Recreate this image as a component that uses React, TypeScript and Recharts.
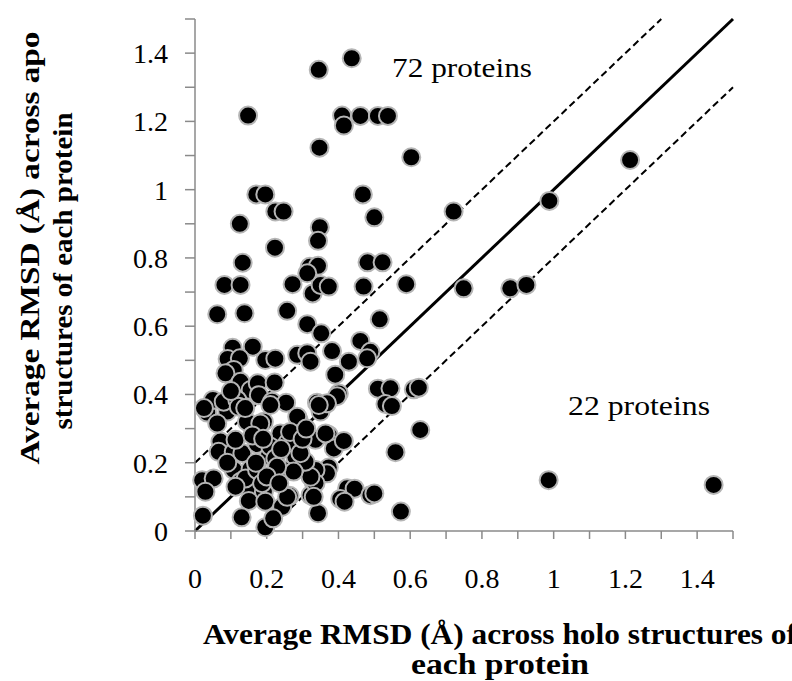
import { ScatterChart, Scatter, XAxis, YAxis, ReferenceLine } from "recharts";

const SERIF = '"Liberation Serif", "Times New Roman", Times, serif';

// points above the +0.2 band (plus a few sparse ones)
const holoUpper = [
  0.437, 0.345, 0.148, 0.41, 0.415, 0.461, 0.51, 0.538, 0.347, 0.603,
  0.171, 0.196, 0.468, 0.224, 0.247, 0.721, 0.125, 0.5, 0.348, 0.343,
  0.223, 0.133, 0.32, 0.343, 0.481, 0.523, 0.082, 0.127, 0.272, 0.328,
  0.35, 0.373, 0.47, 0.589, 0.749, 0.062, 0.138, 0.257, 0.313, 0.352,
  0.515, 0.313, 1.213, 0.988, 0.879, 0.924,
];
const apoUpper = [
  1.385, 1.351, 1.217, 1.217, 1.188, 1.216, 1.216, 1.216, 1.123, 1.095,
  0.986, 0.986, 0.986, 0.936, 0.936, 0.936, 0.9, 0.919, 0.89, 0.85,
  0.83, 0.786, 0.774, 0.777, 0.787, 0.787, 0.721, 0.721, 0.723, 0.696,
  0.721, 0.716, 0.716, 0.723, 0.711, 0.635, 0.638, 0.645, 0.606, 0.579,
  0.62, 0.755, 1.087, 0.967, 0.711, 0.721,
];

// points along the diagonal band and to its right
const holoBand = [
  0.461, 0.489, 0.48, 0.382, 0.429, 0.391, 0.401, 0.396, 0.51, 0.545,
  0.531, 0.549, 0.61, 0.624, 0.628, 0.559, 0.574, 0.424, 0.445, 0.405,
  0.417, 0.489, 0.5, 0.343, 0.331, 0.322, 0.986, 1.446, 0.34, 0.35,
  0.368, 0.345, 0.336, 0.373, 0.387, 0.415, 0.364, 0.373, 0.368, 0.336,
  0.336, 0.331, 0.322, 0.285, 0.313, 0.322,
];
const apoBand = [
  0.557, 0.525, 0.506, 0.527, 0.496, 0.458, 0.403, 0.395, 0.417, 0.418,
  0.372, 0.366, 0.415, 0.42, 0.296, 0.231, 0.057, 0.125, 0.124, 0.094,
  0.086, 0.105, 0.11, 0.052, 0.142, 0.105, 0.149, 0.135, 0.376, 0.35,
  0.374, 0.369, 0.267, 0.281, 0.242, 0.264, 0.286, 0.186, 0.169, 0.179,
  0.14, 0.1, 0.159, 0.516, 0.521, 0.496,
];

// dense cluster near the origin
const holoCluster = [
  0.105, 0.161, 0.091, 0.125, 0.196, 0.224, 0.108, 0.085, 0.127, 0.155,
  0.175, 0.222, 0.178, 0.215, 0.254, 0.034, 0.05, 0.09, 0.08, 0.118,
  0.145, 0.192, 0.289, 0.238, 0.071, 0.066, 0.108, 0.132, 0.173, 0.206,
  0.28, 0.308, 0.108, 0.155, 0.247, 0.275, 0.02, 0.052, 0.029, 0.127,
  0.155, 0.192, 0.15, 0.196, 0.243, 0.264, 0.022, 0.13, 0.196, 0.218,
  0.025, 0.122, 0.182, 0.21, 0.285, 0.062, 0.113, 0.21, 0.257, 0.224,
  0.141, 0.173, 0.187, 0.229, 0.113, 0.257, 0.294, 0.16, 0.19, 0.265,
  0.3, 0.2, 0.235, 0.09, 0.31, 0.17, 0.14, 0.1, 0.24,
];
const apoCluster = [
  0.537, 0.54, 0.504, 0.506, 0.501, 0.505, 0.472, 0.462, 0.437, 0.413,
  0.433, 0.435, 0.398, 0.379, 0.376, 0.347, 0.384, 0.35, 0.379, 0.384,
  0.32, 0.32, 0.325, 0.286, 0.262, 0.232, 0.232, 0.228, 0.255, 0.22,
  0.216, 0.203, 0.179, 0.182, 0.179, 0.174, 0.149, 0.154, 0.115, 0.144,
  0.12, 0.115, 0.088, 0.086, 0.071, 0.103, 0.045, 0.04, 0.011, 0.037,
  0.36, 0.364, 0.315, 0.369, 0.335, 0.315, 0.267, 0.247, 0.257, 0.213,
  0.154, 0.179, 0.14, 0.188, 0.13, 0.1, 0.228, 0.28, 0.27, 0.29,
  0.27, 0.16, 0.14, 0.2, 0.3, 0.2, 0.36, 0.41, 0.24,
];

const axisTicks = [0, 0.1, 0.2, 0.3, 0.4, 0.5, 0.6, 0.7, 0.8, 0.9, 1, 1.1, 1.2, 1.3, 1.4, 1.5];
const labelledTicks = [0, 0.2, 0.4, 0.6, 0.8, 1, 1.2, 1.4];

const identityLine = [{ x: 0, y: 0 }, { x: 1.5, y: 1.5 }];
const upperBand = [{ x: 0, y: 0.2 }, { x: 1.3, y: 1.5 }];
const lowerBand = [{ x: 0.2, y: 0 }, { x: 1.5, y: 1.3 }];

const toPoints = (xs: number[], ys: number[]) => xs.map((x, i) => ({ x, y: ys[i] }));
const points = [
  ...toPoints(holoUpper, apoUpper),
  ...toPoints(holoBand, apoBand),
  ...toPoints(holoCluster, apoCluster),
];

const fmt = (v: number) => (labelledTicks.some((t) => Math.abs(t - v) < 1e-6) ? String(v) : "");

const Dot = (props: any) => (
  <circle cx={props.cx} cy={props.cy} r={9} fill="#000" stroke="#b5b5b5" strokeWidth={2} />
);

const tickStyle = { fill: "#000", fontSize: 28, fontFamily: SERIF };

export default function App() {
  return (
    <div style={{ position: "absolute", left: 0, top: 0, width: 792, height: 681, background: "#fff" }}>
      <ScatterChart width={792} height={681} margin={{ top: 19, right: 59, bottom: 90, left: 115 }}>
        <XAxis
          type="number"
          dataKey="x"
          domain={[0, 1.5]}
          ticks={axisTicks}
          interval={0}
          tickFormatter={fmt}
          tickSize={8}
          tickMargin={29}
          height={60}
          stroke="#8a8a8a"
          strokeWidth={1.5}
          tick={tickStyle}
        />
        <YAxis
          type="number"
          dataKey="y"
          domain={[0, 1.5]}
          ticks={axisTicks}
          interval={0}
          tickFormatter={fmt}
          tickSize={10}
          tickMargin={17}
          width={80}
          stroke="#8a8a8a"
          strokeWidth={1.5}
          tick={tickStyle}
        />
        <ReferenceLine segment={identityLine} stroke="#000" strokeWidth={3} ifOverflow="visible" />
        <ReferenceLine segment={upperBand} stroke="#000" strokeWidth={2} strokeDasharray="7 4" ifOverflow="visible" />
        <ReferenceLine segment={lowerBand} stroke="#000" strokeWidth={2} strokeDasharray="7 4" ifOverflow="visible" />
        <Scatter data={points} shape={Dot} isAnimationActive={false} />
      </ScatterChart>
      <svg
        width={792}
        height={681}
        style={{ position: "absolute", left: 0, top: 0, pointerEvents: "none" }}
        fontFamily={SERIF}
      >
        <text x={392} y={77} fontSize={28} textLength={140} lengthAdjust="spacingAndGlyphs">
          72 proteins
        </text>
        <text x={568} y={415} fontSize={28} textLength={142} lengthAdjust="spacingAndGlyphs">
          22 proteins
        </text>
        <text x={203} y={644} fontSize={29} fontWeight="bold" textLength={594} lengthAdjust="spacingAndGlyphs">
          Average RMSD (Å) across holo structures of
        </text>
        <text x={500} y={674} fontSize={29} fontWeight="bold" textAnchor="middle" textLength={178} lengthAdjust="spacingAndGlyphs">
          each protein
        </text>
        <text
          transform="translate(39,248) rotate(-90)"
          fontSize={28}
          fontWeight="bold"
          textAnchor="middle"
          textLength={433}
          lengthAdjust="spacingAndGlyphs"
        >
          Average RMSD (Å) across apo
        </text>
        <text
          transform="translate(72,271) rotate(-90)"
          fontSize={28}
          fontWeight="bold"
          textAnchor="middle"
          textLength={317}
          lengthAdjust="spacingAndGlyphs"
        >
          structures  of each protein
        </text>
      </svg>
    </div>
  );
}
